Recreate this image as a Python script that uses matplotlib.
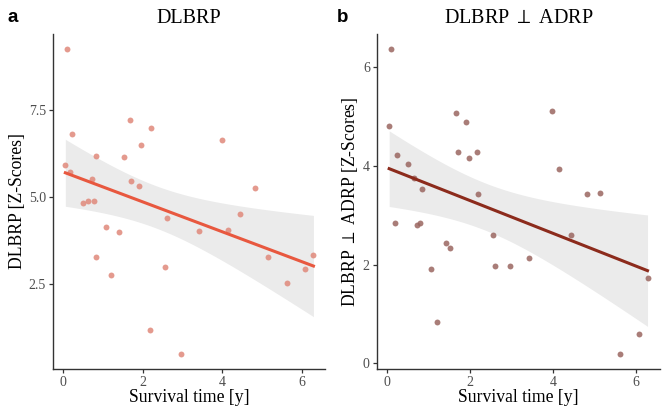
import matplotlib
matplotlib.use("Agg")
import matplotlib.pyplot as plt
import numpy as np

# panel a: DLBRP vs survival time
time_a = [0.06, 0.09, 0.18, 0.23, 0.51, 0.63, 0.72, 0.78, 0.83, 0.84, 1.07, 1.21,
          1.41, 1.53, 1.67, 1.70, 1.90, 1.96, 2.17, 2.21, 2.57, 2.62, 2.97, 3.42,
          3.98, 4.14, 4.43, 4.82, 5.13, 5.61, 6.07, 6.28]
score_a = [5.92, 9.24, 5.71, 6.80, 4.84, 4.88, 5.52, 4.88, 3.28, 6.17, 4.15, 2.76,
           4.01, 6.14, 7.21, 5.47, 5.31, 6.50, 1.18, 6.98, 3.00, 4.39, 0.49, 4.04,
           6.65, 4.06, 4.52, 5.26, 3.28, 2.55, 2.94, 3.34]

# panel b: DLBRP orthogonalised to ADRP
time_b = [0.05, 0.10, 0.19, 0.23, 0.51, 0.64, 0.72, 0.79, 0.84, 1.06, 1.21, 1.41,
          1.52, 1.66, 1.70, 1.90, 1.96, 2.17, 2.19, 2.56, 2.60, 2.96, 3.41, 3.98,
          4.13, 4.42, 4.81, 5.13, 5.61, 6.06, 6.27]
score_b = [4.82, 6.37, 2.84, 4.23, 4.04, 3.75, 2.80, 2.85, 3.53, 1.90, 0.84, 2.43,
           2.33, 5.07, 4.29, 4.90, 4.17, 4.29, 3.44, 2.60, 1.98, 1.97, 2.14, 5.12,
           3.94, 2.60, 3.43, 3.45, 0.18, 0.60, 1.73]

T975 = {30: 2.042, 29: 2.045}


def lm_band(x, y):
    x = np.asarray(x)
    y = np.asarray(y)
    n = len(x)
    slope, icpt = np.polyfit(x, y, 1)
    resid = y - (icpt + slope * x)
    s = np.sqrt(np.sum(resid ** 2) / (n - 2))
    xs = np.linspace(x.min(), x.max(), 80)
    fit = icpt + slope * xs
    se = s * np.sqrt(1 / n + (xs - x.mean()) ** 2 / np.sum((x - x.mean()) ** 2))
    t = T975.get(n - 2, 2.04)
    return xs, fit, fit - t * se, fit + t * se


def panel(ax, x, y, pt_col, ln_col, title, ylabel, yticks, ylim):
    xs, fit, lo, hi = lm_band(x, y)
    ax.fill_between(xs, lo, hi, color='#ebebeb', lw=0, zorder=1)
    ax.scatter(x, y, s=18, color=pt_col, alpha=0.85, lw=0, zorder=2)
    ax.plot(xs, fit, color=ln_col, lw=2.2, zorder=3)
    ax.set_xlim(-0.25, 6.57)
    ax.set_ylim(*ylim)
    ax.set_xticks([0, 2, 4, 6])
    ax.set_yticks(yticks)
    ax.set_xlabel('Survival time [y]', fontsize=12.7, labelpad=0)
    ax.set_ylabel(ylabel, fontsize=12.7, labelpad=2)
    ax.set_title(title, fontsize=14.5, pad=8)
    for side in ['top', 'right']:
        ax.spines[side].set_visible(False)
    for side in ['left', 'bottom']:
        ax.spines[side].set_color('#333333')
        ax.spines[side].set_linewidth(1.0)
    ax.tick_params(colors='#333333', labelcolor='#4d4d4d', labelsize=10,
                   length=3, width=0.9, pad=2)


plt.rcParams['font.family'] = ['Liberation Serif', 'DejaVu Serif']
plt.rcParams['mathtext.fontset'] = 'stix'

fig = plt.figure(figsize=(6.69, 4.18), dpi=100)
ax1 = fig.add_axes([0.0792, 0.1172, 0.4066, 0.8015])
ax2 = fig.add_axes([0.5631, 0.1172, 0.4234, 0.8015])

panel(ax1, time_a, score_a, '#e0887a', '#e8583f', 'DLBRP', 'DLBRP [Z-Scores]',
      [2.5, 5.0, 7.5], (0.07, 9.68))
panel(ax2, time_b, score_b, '#9a6660', '#8c2b1c', r'DLBRP $\perp$ ADRP',
      r'DLBRP $\perp$ ADRP [Z-Scores]', [0, 2, 4, 6], (-0.12, 6.68))

for xpos, letter in [(0.0105, 'a'), (0.504, 'b')]:
    fig.text(xpos, 0.957, letter, fontsize=13.5, fontweight='bold',
             family=['Liberation Sans', 'DejaVu Sans'], va='center', ha='left')

fig.savefig('out.png', dpi=100)
